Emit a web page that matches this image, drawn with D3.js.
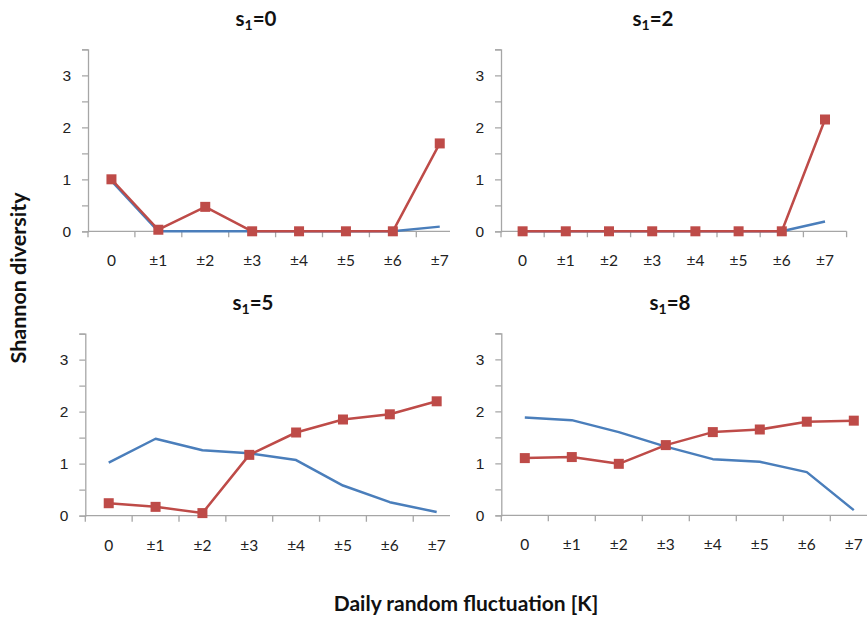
<!DOCTYPE html>
<html>
<head>
<meta charset="utf-8">
<script src="https://cdn.jsdelivr.net/npm/d3@7/dist/d3.min.js"></script>
<style>
  body { margin: 0; background: #fff; }
  svg { display: block; font-family: Lato, "Open Sans", sans-serif; }
</style>
</head>
<body>
<div id="chart"></div>
<script>
//categories on the x axis
const categories = ["0", "±1", "±2", "±3", "±4", "±5", "±6", "±7"];

//y ticks
const yTicks = [0, 1, 2, 3];

//panel titles (value of s1)
const titles = ["0", "2", "5", "8"];

//blue series per panel
const blueS0 = [0.97, 0, 0, 0, 0, 0, 0, 0.09];
const blueS2 = [0, 0, 0, 0, 0, 0, 0, 0.19];
const blueS5 = [1.02, 1.48, 1.26, 1.2, 1.07, 0.58, 0.26, 0.07];
const blueS8 = [1.88, 1.83, 1.6, 1.32, 1.08, 1.03, 0.83, 0.1];

//red series per panel
const redS0 = [1.0, 0.03, 0.47, 0, 0, 0, 0, 1.69];
const redS2 = [0, 0, 0, 0, 0, 0, 0, 2.15];
const redS5 = [0.24, 0.17, 0.05, 1.17, 1.6, 1.85, 1.95, 2.2];
const redS8 = [1.1, 1.12, 0.99, 1.35, 1.6, 1.65, 1.8, 1.82];

const blues = [blueS0, blueS2, blueS5, blueS8];
const reds = [redS0, redS2, redS5, redS8];

//colors
const blue = "#4a7ebb";
const red = "#be4b48";
const axisColor = "#a6a6a6";

const width = 867;
const height = 619;

//panel layout: axis origin x, band width, y of zero, clip right edge, title position
const panels = [
  { x0: 88, band: 46.9, y0: 231.3, clip: 450, tx: 256, ty: 19 },
  { x0: 501, band: 43.2, y0: 231.3, clip: 867, tx: 653, ty: 19 },
  { x0: 85.3, band: 46.85, y0: 515.7, clip: 450, tx: 253, ty: 303 },
  { x0: 501.3, band: 47, y0: 515.3, clip: 867, tx: 670, ty: 303 },
];
const unit = 52; //pixels per unit of diversity

const svg = d3
  .select("#chart")
  .append("svg")
  .attr("width", width)
  .attr("height", height);

const defs = svg.append("defs");

panels.forEach((p, i) => {
  //clip for panels that are overlapped by the neighbour on the right
  defs
    .append("clipPath")
    .attr("id", "clip" + i)
    .append("rect")
    .attr("x", 0)
    .attr("y", p.y0 - 200)
    .attr("width", p.clip)
    .attr("height", 260);

  const x = d3
    .scaleBand()
    .domain(categories)
    .range([p.x0, p.x0 + p.band * categories.length]);

  const y = d3
    .scaleLinear()
    .domain([0, 3.5])
    .range([p.y0, p.y0 - unit * 3.5]);

  const g = svg.append("g").attr("clip-path", `url(#clip${i})`);

  //y axis
  const yAxis = g
    .append("g")
    .attr("transform", `translate(${p.x0},0)`)
    .call(
      d3
        .axisLeft(y)
        .tickValues(d3.range(0, 3.51, 0.5))
        .tickSize(6)
        .tickFormat((d) => (yTicks.includes(d) ? d : ""))
    );
  yAxis.select(".domain").attr("stroke", axisColor).attr("stroke-width", 1.3);
  yAxis.selectAll(".tick line").attr("stroke", axisColor).attr("stroke-width", 1.3);
  yAxis
    .selectAll(".tick text")
    .attr("x", -17)
    .attr("fill", "#222")
    .attr("font-size", 15.5);

  //x axis (ticks on band boundaries)
  const xAxis = g.append("g").attr("transform", `translate(0,${p.y0})`);
  xAxis
    .append("line")
    .attr("x1", p.x0)
    .attr("x2", p.x0 + p.band * categories.length)
    .attr("stroke", axisColor)
    .attr("stroke-width", 1.3);
  xAxis
    .selectAll("line.tick")
    .data(categories.concat(["end"]))
    .join("line")
    .attr("class", "tick")
    .attr("x1", (d, k) => p.x0 + k * p.band)
    .attr("x2", (d, k) => p.x0 + k * p.band)
    .attr("y1", 0)
    .attr("y2", 6)
    .attr("stroke", axisColor)
    .attr("stroke-width", 1.3);
  xAxis
    .selectAll("text")
    .data(categories)
    .join("text")
    .attr("x", (d) => x(d) + x.bandwidth() / 2)
    .attr("y", 35)
    .attr("text-anchor", "middle")
    .attr("fill", "#222")
    .attr("font-size", 15.5)
    .text((d) => d);

  //lines
  const line = d3
    .line()
    .x((d, k) => x(categories[k]) + x.bandwidth() / 2)
    .y((d) => y(d));

  g.append("path")
    .datum(blues[i])
    .attr("d", line)
    .attr("fill", "none")
    .attr("stroke", blue)
    .attr("stroke-width", 2.5)
    .attr("stroke-linejoin", "round");

  g.append("path")
    .datum(reds[i])
    .attr("d", line)
    .attr("fill", "none")
    .attr("stroke", red)
    .attr("stroke-width", 2.5)
    .attr("stroke-linejoin", "round");

  //square markers
  g.selectAll("rect.mark")
    .data(reds[i])
    .join("rect")
    .attr("class", "mark")
    .attr("x", (d, k) => x(categories[k]) + x.bandwidth() / 2 - 5)
    .attr("y", (d) => y(d) - 5)
    .attr("width", 10)
    .attr("height", 10)
    .attr("fill", red);

  //title s1=..
  const t = svg
    .append("text")
    .attr("x", p.tx)
    .attr("y", p.ty + 7)
    .attr("text-anchor", "middle")
    .attr("font-weight", "bold")
    .attr("font-size", 20.5)
    .attr("fill", "#111");
  t.append("tspan").text("s");
  t.append("tspan").attr("font-size", 14).attr("dy", 4).text("1");
  t.append("tspan").attr("dy", -4).text("=" + titles[i]);
});

//axis titles
svg
  .append("text")
  .attr("transform", "translate(26,278) rotate(-90)")
  .attr("text-anchor", "middle")
  .attr("font-weight", "bold")
  .attr("font-size", 21.5)
  .attr("fill", "#111")
  .text("Shannon diversity");

svg
  .append("text")
  .attr("x", 466)
  .attr("y", 611)
  .attr("text-anchor", "middle")
  .attr("font-weight", "bold")
  .attr("font-size", 21)
  .attr("fill", "#111")
  .text("Daily random fluctuation [K]");
</script>
</body>
</html>
